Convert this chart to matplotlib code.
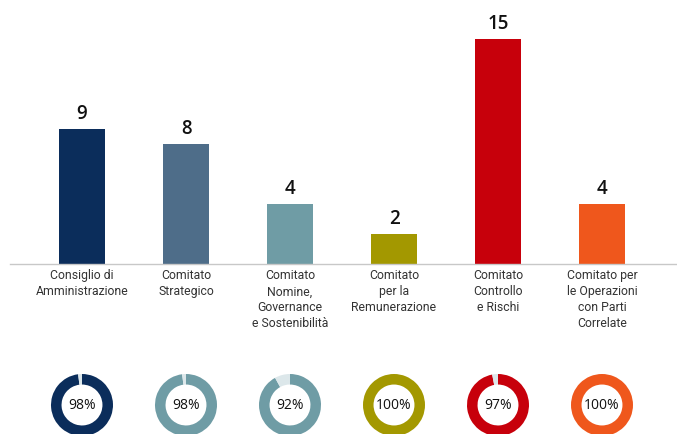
import matplotlib.pyplot as plt

categories = ["Consiglio di\nAmministrazione", "Comitato\nStrategico",
              "Comitato\nNomine,\nGovernance\ne Sostenibilità",
              "Comitato\nper la\nRemunerazione", "Comitato\nControllo\ne Rischi",
              "Comitato per\nle Operazioni\ncon Parti\nCorrelate"]
members = [9, 8, 4, 2, 15, 4]
attendance = [98, 98, 92, 100, 97, 100]
bar_colors = ["#0b2d5b", "#4e6d89", "#6f9ca5", "#a39800", "#c7000b", "#ef571c"]
ring_colors = ["#0b2d5b", "#6f9ca5", "#6f9ca5", "#a39800", "#c7000b", "#ef571c"]
rest_color = "#dce7ea"

W, H = 677, 435
fig = plt.figure(figsize=(W / 100, H / 100), dpi=100)
ax = fig.add_axes([0, 0, 1, 1])

# pixel layout: first bar centre at 82px, 104px per category, 15px per member
x0, step, base, unit = 82, 104, 265, 15
ax.set_xlim(-x0 / step, (W - x0) / step)
ax.set_ylim(-(H - base) / unit, base / unit)
ax.axis("off")

xs = range(len(members))
ax.bar(xs, members, width=0.45, color=bar_colors)
ax.axhline(0, xmin=10 / W, xmax=1, color="#c8c8c8", lw=1)

for x, v, lab in zip(xs, members, categories):
    ax.text(x, v + 0.75, str(v), ha="center", va="baseline", fontsize=13.5,
            fontweight="semibold", color="#111111",
            family=["Open Sans", "DejaVu Sans"])
    ax.text(x, -0.3, lab, ha="center", va="top", fontsize=8.8,
            linespacing=1.3, color="#333333",
            family=["Roboto", "DejaVu Sans"])

# attendance rings below each bar
cy, r = 406, 31
for i, (p, c) in enumerate(zip(attendance, ring_colors)):
    cx = x0 + i * step
    dax = fig.add_axes([(cx - r) / W, (H - cy - r) / H, 2 * r / W, 2 * r / H])
    sizes = [p, 100 - p] if p < 100 else [p]
    cols = [c, rest_color][:len(sizes)]
    dax.pie(sizes, colors=cols, startangle=90, counterclock=False, radius=1,
            wedgeprops=dict(width=0.34, linewidth=0))
    dax.set_xlim(-1, 1)
    dax.set_ylim(-1, 1)
    dax.set_aspect("equal")
    dax.axis("off")
    dax.text(0, 0, f"{p}%", ha="center", va="center", fontsize=10,
             color="#111111", family=["Open Sans", "DejaVu Sans"])

fig.savefig("out.png", dpi=100)
